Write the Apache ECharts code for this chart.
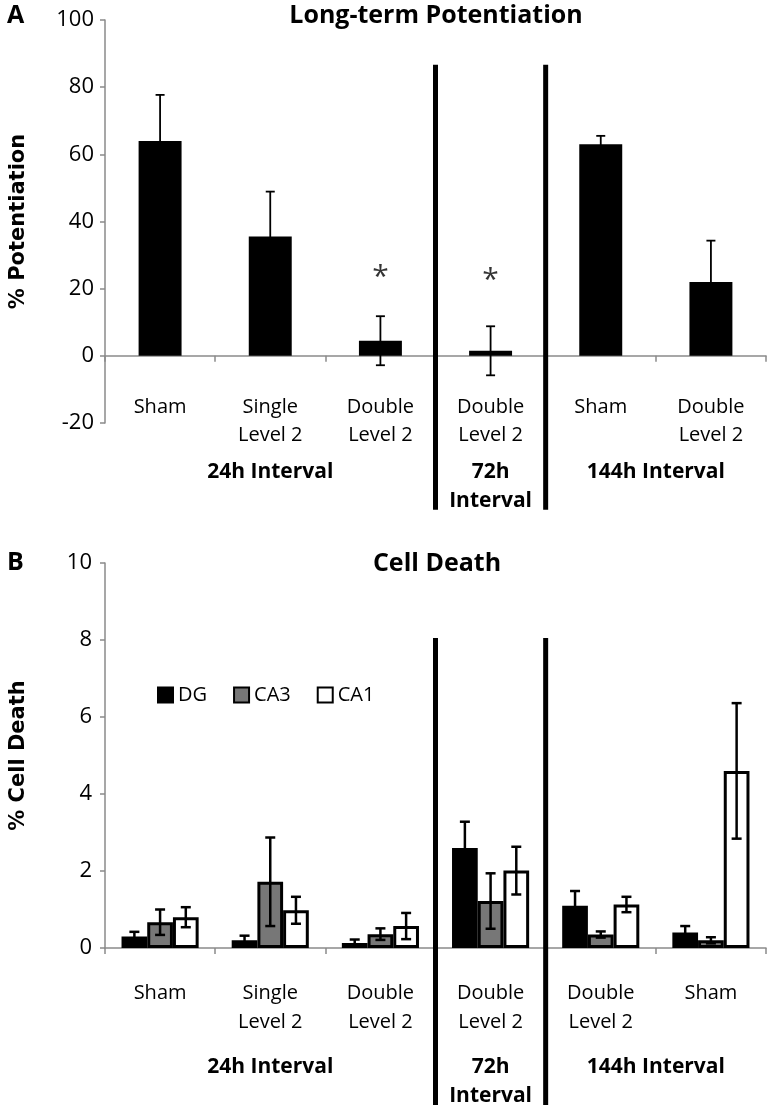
<!DOCTYPE html>
<html><head><meta charset="utf-8">
<script src="https://cdn.jsdelivr.net/npm/echarts@6/dist/echarts.min.js"></script>
<style>html,body{margin:0;padding:0;background:#fff}#c{width:771px;height:1105px}</style>
</head><body><div id="c"></div>
<script>
// ---------- data ----------
const categoriesA = ['Sham', 'Single\nLevel 2', 'Double\nLevel 2', 'Double\nLevel 2', 'Sham', 'Double\nLevel 2'];
const ltpValues = [64, 35.5, 4.5, 1.5, 63, 22];
const ltpErrors = [13.7, 13.4, 7.3, 7.3, 2.5, 12.3];
const starValues = [null, null, 24.5, 23.5, null, null];
const yTicksA = [-20, 0, 20, 40, 60, 80, 100];

const categoriesB = ['Sham', 'Single\nLevel 2', 'Double\nLevel 2', 'Double\nLevel 2', 'Double\nLevel 2', 'Sham'];
const seriesNamesB = ['DG', 'CA3', 'CA1'];
const dgValues = [0.3, 0.2, 0.13, 2.6, 1.1, 0.4];
const dgErrors = [0.12, 0.12, 0.09, 0.68, 0.38, 0.17];
const ca3Values = [0.67, 1.72, 0.36, 1.22, 0.35, 0.2];
const ca3Errors = [0.33, 1.15, 0.15, 0.72, 0.08, 0.08];
const ca1Values = [0.8, 0.98, 0.57, 2.01, 1.13, 4.6];
const ca1Errors = [0.26, 0.35, 0.34, 0.62, 0.2, 1.76];
const yTicksB = [0, 2, 4, 6, 8, 10];

const groupLabels = [
  { text: '24h Interval', from: 1, to: 1 },
  { text: '72h\nInterval', from: 3, to: 3 },
  { text: '144h Interval', from: 4, to: 5 }
];
const dividerTopA = 86.7;
const dividerTopB = 8.05;

// ---------- helpers ----------
const FONT = '"Open Sans", "Noto Sans", sans-serif';
function errData(vals, errs) { return vals.map((v, i) => [i, v, errs[i]]); }
function errRender(k, n, gapFrac, lw, cap) {
  return function (params, api) {
    const i = api.value(0), v = api.value(1), e = api.value(2);
    const band = api.size([1, 0])[0];
    let off = 0;
    if (n > 1) { const gw = band * (1 - gapFrac); const bw = gw / n; off = -gw / 2 + bw * (k + 0.5); }
    const t = api.coord([i, v + e]), b = api.coord([i, v - e]);
    const x = t[0] + off;
    const st = { stroke: '#000', lineWidth: lw };
    return { type: 'group', children: [
      { type: 'line', shape: { x1: x, y1: t[1], x2: x, y2: b[1] }, style: st },
      { type: 'line', shape: { x1: x - cap / 2, y1: t[1], x2: x + cap / 2, y2: t[1] }, style: st },
      { type: 'line', shape: { x1: x - cap / 2, y1: b[1], x2: x + cap / 2, y2: b[1] }, style: st }
    ] };
  };
}
const axisGrey = '#8a8a8a';

const chart = echarts.init(document.getElementById('c'), null, { renderer: 'canvas' });
const option = {
  animation: false,
  backgroundColor: '#fff',
  title: [
    { text: 'Long-term Potentiation', left: 431, top: -2, textAlign: 'center',
      textStyle: { fontFamily: FONT, fontWeight: 'bold', fontSize: 25, color: '#000' } },
    { text: 'Cell Death', left: 432, top: 546, textAlign: 'center',
      textStyle: { fontFamily: FONT, fontWeight: 'bold', fontSize: 25, color: '#000' } },
    { text: 'A', left: 2, top: -2, textStyle: { fontFamily: FONT, fontWeight: 'bold', fontSize: 25, color: '#000' } },
    { text: 'B', left: 2, top: 545, textStyle: { fontFamily: FONT, fontWeight: 'bold', fontSize: 25, color: '#000' } }
  ],
  legend: {
    data: seriesNamesB, left: 152, top: 680, icon: 'rect', itemWidth: 15, itemHeight: 15, itemGap: 26,
    textStyle: { fontFamily: FONT, fontSize: 20, color: '#000', padding: [0, 0, 0, 0] }
  },
  grid: [
    { left: 101, top: 20, width: 665, height: 403 },
    { left: 101, top: 563, width: 665, height: 385 }
  ],
  xAxis: [
    { type: 'category', gridIndex: 0, data: categoriesA, boundaryGap: true, position: 'bottom',
      axisLine: { onZero: false, lineStyle: { color: axisGrey, width: 1.5 } },
      axisTick: { show: true, length: 6, lineStyle: { color: axisGrey, width: 1.5 } },
      axisLabel: { color: '#000', fontFamily: FONT, fontSize: 20, lineHeight: 28, margin: 37, interval: 0 } },
    { type: 'category', gridIndex: 1, data: categoriesB, boundaryGap: true,
      axisLine: { onZero: true, lineStyle: { color: axisGrey, width: 1.5 } },
      axisTick: { show: true, length: 6, lineStyle: { color: axisGrey, width: 1.5 } },
      axisLabel: { color: '#000', fontFamily: FONT, fontSize: 20, lineHeight: 29, margin: 31, interval: 0 } }
  ],
  yAxis: [
    { type: 'value', gridIndex: 0, min: yTicksA[0], max: yTicksA[yTicksA.length - 1], interval: yTicksA[1] - yTicksA[0],
      splitLine: { show: false },
      axisLine: { show: true, lineStyle: { color: axisGrey, width: 1.5 } },
      axisTick: { show: true, length: 5, lineStyle: { color: axisGrey, width: 1.5 } },
      axisLabel: { color: '#000', fontFamily: FONT, fontSize: 22, margin: 11 },
      name: '% Potentiation', nameLocation: 'middle', nameRotate: 90, nameGap: 76,
      nameTextStyle: { fontFamily: '"DejaVu Sans", Verdana, sans-serif', fontWeight: 'bold', fontSize: 21, color: '#000' } },
    { type: 'value', gridIndex: 1, min: yTicksB[0], max: yTicksB[yTicksB.length - 1], interval: yTicksB[1] - yTicksB[0],
      splitLine: { show: false },
      axisLine: { show: true, lineStyle: { color: axisGrey, width: 1.5 } },
      axisTick: { show: true, length: 5, lineStyle: { color: axisGrey, width: 1.5 } },
      axisLabel: { color: '#000', fontFamily: FONT, fontSize: 22, margin: 13 },
      name: '% Cell Death', nameLocation: 'middle', nameRotate: 90, nameGap: 76,
      nameTextStyle: { fontFamily: '"DejaVu Sans", Verdana, sans-serif', fontWeight: 'bold', fontSize: 21, color: '#000' } }
  ],
  series: [
    { type: 'bar', name: 'LTP', xAxisIndex: 0, yAxisIndex: 0, data: ltpValues, barCategoryGap: '61%',
      itemStyle: { color: '#000' } },
    { type: 'custom', xAxisIndex: 0, yAxisIndex: 0, z: 5, data: errData(ltpValues, ltpErrors),
      encode: { x: 0, y: 1 }, renderItem: errRender(0, 1, 0, 1.8, 9) },
    { type: 'scatter', xAxisIndex: 0, yAxisIndex: 0, data: starValues, symbolSize: 1,
      itemStyle: { color: 'rgba(0,0,0,0)' },
      label: { show: true, position: 'inside', formatter: '*', fontFamily: FONT, fontSize: 30, color: '#000', offset: [0, 4] } },

    { type: 'bar', name: 'DG', xAxisIndex: 1, yAxisIndex: 1, data: dgValues, barGap: '0%', barCategoryGap: '30%',
      itemStyle: { color: '#000', borderColor: '#000', borderWidth: 3 } },
    { type: 'bar', name: 'CA3', xAxisIndex: 1, yAxisIndex: 1, data: ca3Values, barGap: '0%', barCategoryGap: '30%',
      itemStyle: { color: '#777777', borderColor: '#000', borderWidth: 3 } },
    { type: 'bar', name: 'CA1', xAxisIndex: 1, yAxisIndex: 1, data: ca1Values, barGap: '0%', barCategoryGap: '30%',
      itemStyle: { color: '#ffffff', borderColor: '#000', borderWidth: 3 } },
    { type: 'custom', xAxisIndex: 1, yAxisIndex: 1, z: 5, data: errData(dgValues, dgErrors),
      encode: { x: 0, y: 1 }, renderItem: errRender(0, 3, 0.3, 2.5, 10) },
    { type: 'custom', xAxisIndex: 1, yAxisIndex: 1, z: 5, data: errData(ca3Values, ca3Errors),
      encode: { x: 0, y: 1 }, renderItem: errRender(1, 3, 0.3, 2.5, 10) },
    { type: 'custom', xAxisIndex: 1, yAxisIndex: 1, z: 5, data: errData(ca1Values, ca1Errors),
      encode: { x: 0, y: 1 }, renderItem: errRender(2, 3, 0.3, 2.5, 10) }
  ]
};
chart.setOption(option);

// move panel A's category axis (line, ticks and labels) up to the zero line
(function () {
  const zeroY = chart.convertToPixel({ yAxisIndex: 0 }, 0);
  const botY = chart.convertToPixel({ yAxisIndex: 0 }, yTicksA[0]);
  chart.setOption({ xAxis: [{ offset: -(botY - zeroY) }, {}] });
})();

// ---------- dividers and group labels via the chart's scales ----------
function buildGraphics() {
  const g = [];
  const panels = [
    { x: 0, y: 0, top: dividerTopA, bottomOff: 154, labelOff: 102 },
    { x: 1, y: 1, top: dividerTopB, bottomOff: 160, labelOff: 105 }
  ];
  panels.forEach(p => {
    const cx = i => chart.convertToPixel({ xAxisIndex: p.x }, i);
    const zeroY = chart.convertToPixel({ yAxisIndex: p.y }, 0);
    const topY = chart.convertToPixel({ yAxisIndex: p.y }, p.top);
    [[2, 3], [3, 4]].forEach(([a, b]) => {
      const x = (cx(a) + cx(b)) / 2;
      g.push({ type: 'line', z: 10, shape: { x1: x, y1: topY, x2: x, y2: zeroY + p.bottomOff },
        style: { stroke: '#000', lineWidth: 5 } });
    });
    groupLabels.forEach(gl => {
      g.push({ type: 'text', z: 10, style: {
        text: gl.text, x: (cx(gl.from) + cx(gl.to)) / 2, y: zeroY + p.labelOff,
        textAlign: 'center', textVerticalAlign: 'top', lineHeight: 29,
        font: 'bold 21px ' + FONT, fill: '#000' } });
    });
  });
  chart.setOption({ graphic: g });
}
buildGraphics();
</script>
</body></html>
